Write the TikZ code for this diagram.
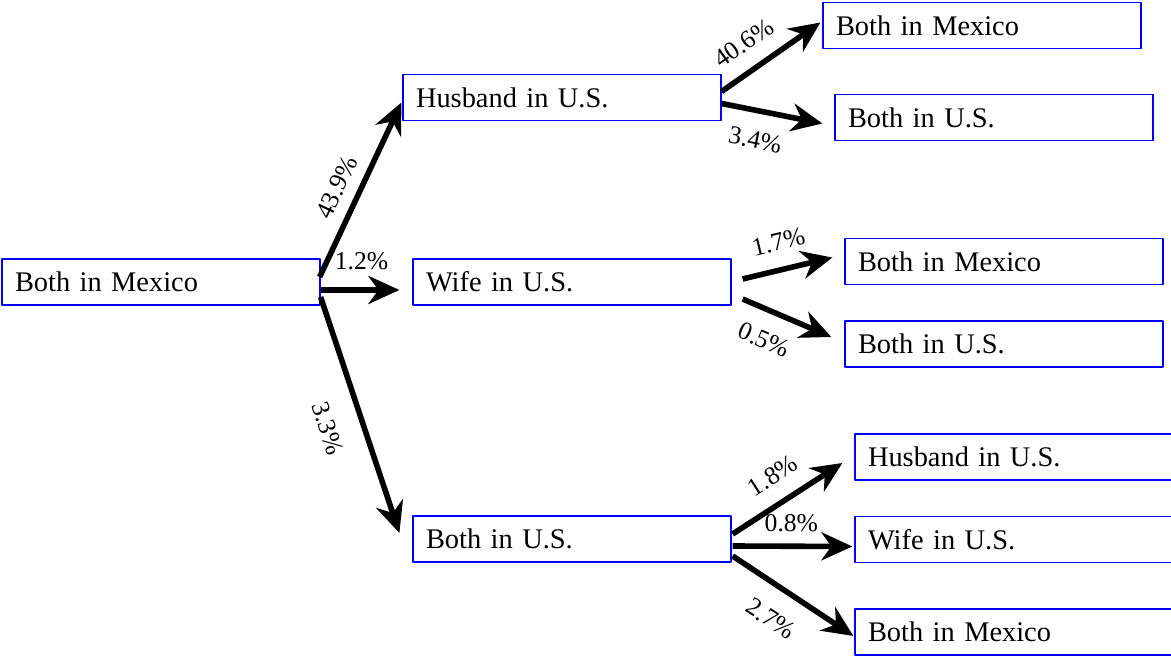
\documentclass[tikz,border=0pt]{standalone}
\usepackage{fontspec}
\setmainfont{Liberation Serif}
\usetikzlibrary{arrows.meta}
\tikzset{
	state/.style={draw=blue, line width=0.6pt, inner xsep=6.5pt, text width=146pt, minimum height=23pt, align=left, font=\fontsize{14.2}{17}\selectfont},
	move/.style={-{Stealth[length=15.5pt,width=14pt,inset=5pt]}, line width=2.8pt},
	rate/.style={font=\fontsize{12.8}{15}\selectfont, inner sep=0pt, sloped}
}
\begin{document}
\begin{tikzpicture}[x=0.5pt, y=-0.5pt, line join=round]
	\useasboundingbox (0,0) rectangle (1171,656);
	\clip (0,0) rectangle (1171,656);
	\node[state] (mex) at (161,282) {Both in Mexico};
	\node[state] (hus) at (562,97.5) {Husband in U.S.};
	\node[state] (wif) at (572,282) {Wife in U.S.};
	\node[state] (bus) at (572,539) {Both in U.S.};
	\node[state] (husmex) at (982,25.5) {Both in Mexico};
	\node[state] (husus) at (994,117.5) {Both in U.S.};
	\node[state] (wifmex) at (1004,261.5) {Both in Mexico};
	\node[state] (wifus) at (1004,344) {Both in U.S.};
	\node[state] (bushus) at (1014,457) {Husband in U.S.};
	\node[state] (buswif) at (1014,539.5) {Wife in U.S.};
	\node[state] (busmex) at (1014,632) {Both in Mexico};
	\draw[move] ([shift={(-1,-5)}]mex.east) -- node[rate, pos=.46, above=5.5pt] {43.9\%} ([shift={(-1,5)}]hus.west);
	\draw[move] ([shift={(0,8)}]mex.east) -- node[rate, pos=.52, above=8.8pt] {1.2\%} ([shift={(-13,8)}]wif.west);
	\draw[move] ([shift={(0,15)}]mex.east) -- node[rate, pos=.51, below=11.7pt] {3.3\%} ([shift={(-13,-6)}]bus.west);
	\draw[move] ([shift={(0,-6)}]hus.east) -- node[rate, pos=.38, above=7.8pt] {40.6\%} ([shift={(-2,-3)}]husmex.west);
	\draw[move] ([shift={(0,6)}]hus.east) -- node[rate, pos=.39, below=8.8pt] {3.4\%} ([shift={(-12,6)}]husus.west);
	\draw[move] ([shift={(11,-3)}]wif.east) -- node[rate, pos=.47, above=8.1pt] {1.7\%} ([shift={(-12,-4)}]wifmex.west);
	\draw[move] ([shift={(11,17)}]wif.east) -- node[rate, pos=.37, below=8.8pt] {0.5\%} ([shift={(-13,-7)}]wifus.west);
	\draw[move] ([shift={(1,-5)}]bus.east) -- node[rate, pos=.5, above=7.8pt] {1.8\%} ([shift={(-12,6)}]bushus.west);
	\draw[move] ([shift={(1,7)}]bus.east) -- node[rate, pos=.49, above=5.8pt] {0.8\%} ([shift={(-2,7)}]buswif.west);
	\draw[move] ([shift={(1,17)}]bus.east) -- node[rate, pos=.46, below=9.8pt] {2.7\%} ([shift={(-1,4)}]busmex.west);
\end{tikzpicture}
\end{document}
